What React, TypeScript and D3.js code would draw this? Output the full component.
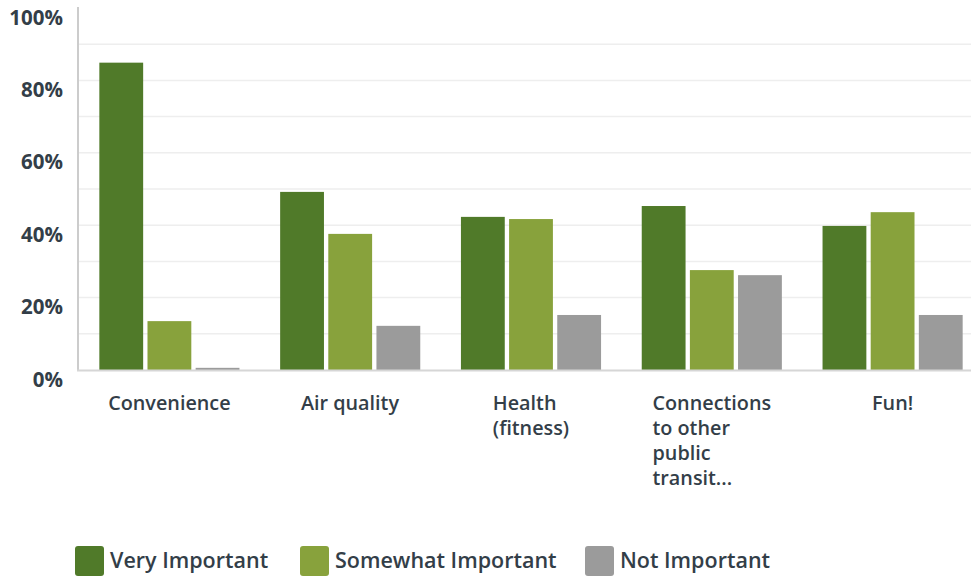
import React, { useEffect, useRef } from "react";
import * as d3 from "d3";

const categoryLines = [["Convenience"], ["Air quality"], ["Health", "(fitness)"], ["Connections", "to other", "public", "transit..."], ["Fun!"]];
const seriesNames = ["Very Important", "Somewhat Important", "Not Important"];
const seriesColors = ["#507a29", "#88a23c", "#9b9b9b"];
const veryImportant = [84.9, 49.2, 42.3, 45.3, 39.8];
const somewhatImportant = [13.5, 37.6, 41.7, 27.6, 43.6];
const notImportant = [0.6, 12.2, 15.2, 26.2, 15.2];
const yTicks = [0, 20, 40, 60, 80, 100];
const yGrid = [10, 20, 30, 40, 50, 60, 70, 80, 90];

const W = 971;
const H = 576;
const FONT = "'Open Sans', 'Noto Sans', sans-serif";
const TEXT = "#333e48";

export default function App() {
  const ref = useRef<SVGSVGElement>(null);
  useEffect(() => {
    const svg = d3.select(ref.current);
    svg.selectAll("*").remove();
    const series = [veryImportant, somewhatImportant, notImportant];
    const x0 = d3.scaleBand<number>().domain(d3.range(categoryLines.length)).range([79, 983]).paddingInner(0.225).paddingOuter(0.1125);
    const x1 = d3.scaleBand<number>().domain([0, 1, 2]).range([0, x0.bandwidth()]).paddingInner(0.09);
    const y = d3.scaleLinear().domain([0, 100]).range([370, 8]);

    // gridlines
    svg.append("g").selectAll("line").data(yGrid).join("line")
      .attr("x1", 79).attr("x2", W).attr("y1", (d) => y(d)).attr("y2", (d) => y(d))
      .attr("stroke", "#eeeeee").attr("stroke-width", 1.5);

    // bars
    const g = svg.append("g");
    series.forEach((vals, si) => {
      g.selectAll(`rect.s${si}`).data(vals).join("rect")
        .attr("class", `s${si}`)
        .attr("x", (_, i) => (x0(i) as number) + (x1(si) as number))
        .attr("width", x1.bandwidth())
        .attr("y", (d) => y(d))
        .attr("height", (d) => y(0) - y(d))
        .attr("fill", seriesColors[si]);
    });

    // axes lines
    svg.append("line").attr("x1", 78).attr("x2", 78).attr("y1", 7).attr("y2", 371)
      .attr("stroke", "#cccccc").attr("stroke-width", 2);
    svg.append("line").attr("x1", 77).attr("x2", W).attr("y1", 370.5).attr("y2", 370.5)
      .attr("stroke", "#d6d6d6").attr("stroke-width", 2);

    // y tick labels
    svg.append("g").selectAll("text").data(yTicks).join("text")
      .attr("x", 63).attr("y", (d) => y(d) + 16.5)
      .attr("text-anchor", "end")
      .attr("font-family", FONT).attr("font-weight", 700).attr("font-size", 20.5)
      .attr("fill", TEXT)
      .text((d) => `${d}%`);

    // category labels
    categoryLines.forEach((lines, i) => {
      const cx = (x0(i) as number) + x0.bandwidth() / 2;
      const t = svg.append("text")
        .attr("font-family", FONT).attr("font-weight", 600).attr("font-size", 19.8)
        .attr("fill", TEXT);
      lines.forEach((ln, li) => {
        t.append("tspan").attr("x", 0).attr("y", 410 + li * 25).text(ln);
      });
      const bw = (t.node() as SVGTextElement).getBBox().width;
      t.selectAll("tspan").attr("x", cx - bw / 2);
    });

    // legend
    const legendX = [75, 300, 585];
    seriesNames.forEach((name, i) => {
      svg.append("rect").attr("x", legendX[i]).attr("y", 546).attr("width", 29).attr("height", 30)
        .attr("rx", 3).attr("fill", seriesColors[i]);
      svg.append("text").attr("x", legendX[i] + 35).attr("y", 568)
        .attr("font-family", FONT).attr("font-weight", 600).attr("font-size", 21.5)
        .attr("fill", TEXT).text(name);
    });
  }, []);
  return <svg ref={ref} width={W} height={H} style={{ display: "block", position: "absolute", left: 0, top: 0 }} />;
}
